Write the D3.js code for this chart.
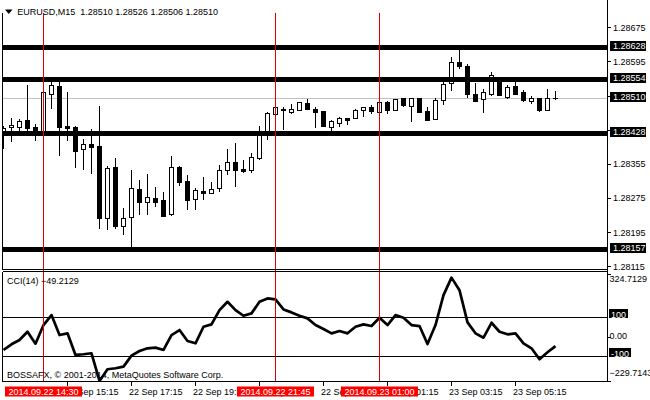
<!DOCTYPE html>
<html><head><meta charset="utf-8">
<script src="https://cdn.jsdelivr.net/npm/d3@7"></script>
<style>
html,body{margin:0;padding:0;background:#fff;}
svg{display:block;font-family:"Liberation Sans",Arial,sans-serif;font-size:9px;}
</style></head><body>
<svg id="c" width="650" height="400"></svg>
<script>
// ---------------- data ----------------
const symbol = "EURUSD,M15";
const firstBar = "2014-09-22 13:15";
const afterLastBar = "2014-09-23 06:45";
const open = [1.28423,1.28441,1.28442,1.28458,1.28441,1.28430,1.28520,1.28537,1.28444,1.28441,
1.28389,1.28402,1.28397,1.28229,1.28348,1.28209,1.28231,1.28296,1.28267,1.28275,
1.28270,1.28237,1.28348,1.28315,1.28274,1.28292,1.28286,1.28298,1.28340,1.28359,
1.28343,1.28340,1.28370,1.28432,1.28471,1.28482,1.28477,1.28481,1.28497,1.28484,
1.28479,1.28442,1.28452,1.28462,1.28462,1.28481,1.28488,1.28477,1.28499,1.28481,
1.28509,1.28491,1.28509,1.28479,1.28460,1.28504,1.28544,1.28593,1.28584,1.28520,
1.28508,1.28520,1.28548,1.28512,1.28537,1.28523,1.28502,1.28509,1.28481,1.28510];
const high = [1.28444,1.28463,1.28460,1.28540,1.28448,1.28549,1.28552,1.28549,1.28523,1.28444,
1.28413,1.28438,1.28491,1.28350,1.28369,1.28252,1.28341,1.28317,1.28331,1.28302,
1.28289,1.28374,1.28350,1.28329,1.28299,1.28325,1.28312,1.28352,1.28389,1.28403,
1.28364,1.28380,1.28445,1.28477,1.28497,1.28489,1.28495,1.28499,1.28507,1.28488,
1.28480,1.28458,1.28466,1.28462,1.28483,1.28488,1.28494,1.28502,1.28502,1.28507,
1.28509,1.28509,1.28509,1.28489,1.28510,1.28548,1.28606,1.28622,1.28589,1.28545,
1.28530,1.28570,1.28552,1.28540,1.28548,1.28528,1.28514,1.28509,1.28530,1.28526];
const low = [1.28392,1.28409,1.28432,1.28434,1.28411,1.28423,1.28487,1.28376,1.28411,1.28348,
1.28343,1.28334,1.28206,1.28203,1.28206,1.28192,1.28161,1.28238,1.28238,1.28257,
1.28234,1.28235,1.28306,1.28250,1.28249,1.28272,1.28286,1.28292,1.28331,1.28304,
1.28337,1.28337,1.28366,1.28413,1.28470,1.28438,1.28474,1.28481,1.28483,1.28442,
1.28444,1.28432,1.28445,1.28448,1.28462,1.28468,1.28474,1.28476,1.28474,1.28481,
1.28491,1.28456,1.28477,1.28458,1.28460,1.28496,1.28528,1.28579,1.28512,1.28503,
1.28477,1.28516,1.28517,1.28510,1.28518,1.28502,1.28497,1.28479,1.28481,1.28506];
const close = [1.28439,1.28446,1.28456,1.28440,1.28432,1.28523,1.28540,1.28442,1.28440,1.28386,
1.28402,1.28395,1.28229,1.28346,1.28210,1.28228,1.28299,1.28266,1.28277,1.28266,
1.28234,1.28348,1.28313,1.28271,1.28294,1.28288,1.28296,1.28341,1.28359,1.28340,
1.28339,1.28371,1.28428,1.28475,1.28488,1.28484,1.28483,1.28499,1.28484,1.28477,
1.28445,1.28455,1.28462,1.28459,1.28481,1.28488,1.28479,1.28499,1.28481,1.28507,
1.28493,1.28509,1.28477,1.28458,1.28505,1.28542,1.28593,1.28585,1.28519,1.28503,
1.28523,1.28563,1.28517,1.28535,1.28519,1.28505,1.28509,1.28481,1.28509,1.28510];
const cci = [-69,-39.5,-17.3,25.6,-36.4,60.2,111.9,8.5,17.3,-94.8,
-91.2,-86,-229.71,-168.7,-163.6,-155.3,-98.4,-74.2,-60.2,-57,
-69,8.5,34.4,-22.5,-34.4,51.4,63.8,137.7,180.6,137.7,
108.3,120.7,180.6,198.2,193,141.3,125.8,108.3,94.8,60.2,
39.5,17.3,29.2,17.3,51.4,63.8,55,98,60.2,111.9,
98,60.2,55,-38,60.2,215.2,306,241,74,17.3,
-5.4,72,25.6,12.1,17.3,-34.4,-60.2,-117,-80.9,-49.2129];
const priceTicks = [1.28675,1.28595,1.28515,1.28435,1.28355,1.28275,1.28195,1.28115];
const hLines = [1.28628,1.28554,1.28428,1.28157];
const bidPrice = 1.28510;
const vLines = ["2014-09-22 14:30","2014-09-22 21:45","2014-09-23 01:00"];
const timeTicks = ["2014-09-22 15:15","2014-09-22 17:15","2014-09-22 19:15","2014-09-22 21:15",
                   "2014-09-22 23:15","2014-09-23 01:15","2014-09-23 03:15","2014-09-23 05:15"];
const cciMax = 324.7129, cciMin = -229.7143;
const cciLevels = [100,-100];
const cciTitle = "CCI(14)";
const copyright = "BOSSAFX, © 2001-2014, MetaQuotes Software Corp.";

// ---------------- layout ----------------
const svg = d3.select("#c");
const L = 2.5, R = 607.5, mainBot = 269.5, cciTop = 271.5, cciBot = 381.5;
const parse = d3.timeParse("%Y-%m-%d %H:%M");
const times = d3.timeMinute.every(15).range(parse(firstBar), parse(afterLastBar));
const x = d3.scaleTime().domain([times[0], times[times.length-1]]).range([3.5, 555.5]);
const y = d3.scaleLinear().domain([1.28109, 1.28732]).range([269, 3]);
const yc = d3.scaleLinear().domain([cciMin, cciMax]).range([381, 274]);
const sy = v => Math.round(y(v)) + 0.5;
const syc = v => Math.round(yc(v)) + 0.5;
const f5 = d3.format(".5f");
const fTick = d3.timeFormat("%d %b %H:%M");
const fLine = d3.timeFormat("%Y.%m.%d %H:%M");

const defs = svg.append("defs");
defs.append("clipPath").attr("id","clipMain").append("rect").attr("x",3).attr("y",0).attr("width",604).attr("height",269);
defs.append("clipPath").attr("id","clipCci").append("rect").attr("x",3).attr("y",272).attr("width",604).attr("height",109.5);

// bid line (behind candles)
svg.append("line").attr("x1",3).attr("x2",607).attr("y1",sy(bidPrice)).attr("y2",sy(bidPrice))
  .attr("stroke","#c0c0c0").attr("shape-rendering","crispEdges");

// candles
const cg = svg.append("g").attr("clip-path","url(#clipMain)").attr("shape-rendering","crispEdges");
times.forEach((t,i)=>{
  const cx = Math.floor(x(t)) + 0.5;
  const o = open[i], c = close[i], h = high[i], l = low[i];
  cg.append("line").attr("x1",cx).attr("x2",cx)
    .attr("y1",Math.round(y(h))).attr("y2",Math.round(y(l))+1).attr("stroke","#000");
  const top = Math.round(y(Math.max(o,c))), bot = Math.round(y(Math.min(o,c)));
  if (bot - top < 1) {
    cg.append("line").attr("x1",cx-2.5).attr("x2",cx+2.5).attr("y1",top+0.5).attr("y2",top+0.5).attr("stroke","#000");
  } else {
    cg.append("rect").attr("x",cx-2).attr("y",top+0.5).attr("width",4).attr("height",bot-top)
      .attr("fill", c >= o ? "#fff" : "#000").attr("stroke","#000");
  }
});

// thick horizontal lines
svg.append("g").selectAll("line").data(hLines).join("line")
  .attr("x1",3).attr("x2",607).attr("y1",d=>sy(d)).attr("y2",d=>sy(d))
  .attr("stroke","#000").attr("stroke-width",5).attr("shape-rendering","crispEdges");

// CCI level lines
svg.append("g").selectAll("line").data(cciLevels).join("line")
  .attr("x1",3).attr("x2",607).attr("y1",d=>syc(d)).attr("y2",d=>syc(d))
  .attr("stroke","#000").attr("shape-rendering","crispEdges");

// CCI line
svg.append("path").attr("clip-path","url(#clipCci)")
  .datum(cci).attr("fill","none").attr("stroke","#000").attr("stroke-width",2.7)
  .attr("stroke-linejoin","round")
  .attr("d", d3.line().x((d,i)=>x(times[i])).y(d=>yc(d)));

// vertical red lines
const vt = vLines.map(parse);
svg.append("g").selectAll("line").data(vt).join("line")
  .attr("x1",d=>Math.floor(x(d))+0.5).attr("x2",d=>Math.floor(x(d))+0.5)
  .attr("y1",13).attr("y2",382)
  .attr("stroke","#e00000").attr("shape-rendering","crispEdges");

// frames
const fr = svg.append("g").attr("stroke","#000").attr("shape-rendering","crispEdges");
fr.append("line").attr("x1",L).attr("x2",L).attr("y1",0).attr("y2",mainBot);
fr.append("line").attr("x1",L).attr("x2",L).attr("y1",cciTop).attr("y2",cciBot);
fr.append("line").attr("x1",R).attr("x2",R).attr("y1",0).attr("y2",cciBot+0.5);
fr.append("line").attr("x1",L).attr("x2",R).attr("y1",mainBot).attr("y2",mainBot);
fr.append("line").attr("x1",L).attr("x2",R).attr("y1",cciTop).attr("y2",cciTop);
fr.append("line").attr("x1",L).attr("x2",R).attr("y1",cciBot).attr("y2",cciBot);

// price axis ticks + labels
const pa = svg.append("g");
pa.selectAll("line").data(priceTicks).join("line")
  .attr("x1",608).attr("x2",611).attr("y1",d=>sy(d)).attr("y2",d=>sy(d))
  .attr("stroke","#000").attr("shape-rendering","crispEdges");
pa.selectAll("text").data(priceTicks).join("text")
  .attr("x",613).attr("y",d=>y(d)+3.3).text(d=>f5(d)).attr("fill","#000");

// boxed price labels
const boxed = hLines.concat([bidPrice]);
const bg = svg.append("g");
boxed.forEach(v=>{
  const yy = Math.round(y(v));
  bg.append("rect").attr("x",610).attr("y",yy-6).attr("width",36).attr("height",10).attr("fill","#000");
  bg.append("text").attr("x",613).attr("y",yy+2.3).attr("fill","#fff").text(f5(v));
});

// CCI axis
const ca = svg.append("g");
[cciMax, 0, cciMin].forEach(v=>{
  ca.append("line").attr("x1",608).attr("x2",611).attr("y1",syc(v)).attr("y2",syc(v))
    .attr("stroke","#000").attr("shape-rendering","crispEdges");
});
ca.append("text").attr("x",609.5).attr("y",yc(cciMax)+8).text(d3.format(".4f")(cciMax));
ca.append("text").attr("x",609.5).attr("y",yc(0)+2.3).text(d3.format(".2f")(0));
ca.append("text").attr("x",609.5).attr("y",yc(cciMin)-5).text(d3.format(".4f")(cciMin));
cciLevels.forEach(v=>{
  const yy = Math.round(yc(v));
  const t = ca.append("text").attr("x",611).attr("y",yy+0.5).attr("fill","#fff").text(String(v));
  const w = t.node().getComputedTextLength();
  ca.insert("rect","text").attr("x",609).attr("y",yy-8).attr("width",w+4).attr("height",9).attr("fill","#000");
});

// time axis
const ta = svg.append("g");
const tt = timeTicks.map(parse);
ta.selectAll("line").data(tt).join("line")
  .attr("x1",d=>Math.floor(x(d))+0.5).attr("x2",d=>Math.floor(x(d))+0.5)
  .attr("y1",382).attr("y2",386).attr("stroke","#000").attr("shape-rendering","crispEdges");
ta.selectAll("text").data(tt).join("text")
  .attr("x",d=>Math.floor(x(d))-2).attr("y",394.5).text(d=>fTick(d));
vt.forEach(d=>{
  const label = fLine(d);
  const t = ta.append("text").attr("y",394.5).attr("fill","#fff").text(label);
  const w = t.node().getComputedTextLength();
  let bx = Math.floor(x(d)) + 0.5 - (w+7)/2;
  if (bx < 2) bx = 2;
  ta.insert("rect","text:last-child").attr("x",bx).attr("y",386.5).attr("width",w+7).attr("height",10).attr("fill","#ff0000");
  t.attr("x",bx+3.5);
});

// header
svg.append("rect").attr("x",0).attr("y",0).attr("width",230).attr("height",13).attr("fill","#fff");
svg.append("path").attr("d","M5,9.5 L12.5,9.5 L8.75,14 Z").attr("fill","#000");
svg.append("text").attr("x",17.3).attr("y",15).attr("xml:space","preserve").style("white-space","pre")
  .text(symbol + "  " + [open[69], high[69], low[69], close[69]].map(f5).join(" "));

// CCI header + copyright
svg.append("text").attr("x",7).attr("y",284).text(cciTitle + " " + d3.format(".4f")(cci[cci.length-1]));
svg.append("text").attr("x",7).attr("y",377.7).text(copyright);
</script>
</body></html>
